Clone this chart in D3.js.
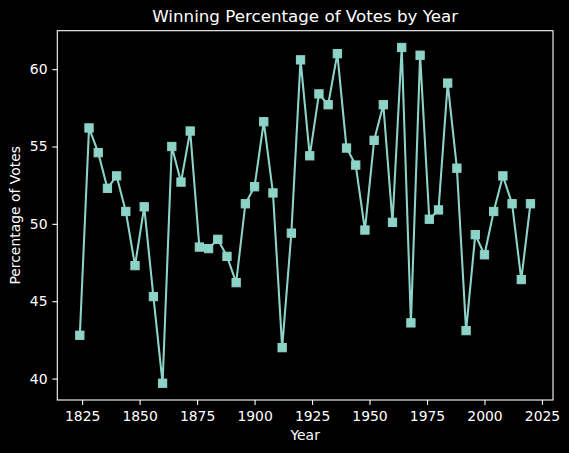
<!DOCTYPE html>
<html>
<head>
<meta charset="utf-8">
<script src="https://cdn.jsdelivr.net/npm/d3@7"></script>
<style>
  html, body { margin: 0; padding: 0; background: #000; }
  svg { display: block; }
  text { font-family: "DejaVu Sans", sans-serif; fill: #fff; }
</style>
</head>
<body>
<svg id="chart" width="569" height="453"></svg>
<script>
// election years and the winner's share of the popular vote
const years = [1824, 1828, 1832, 1836, 1840, 1844, 1848, 1852, 1856, 1860,
               1864, 1868, 1872, 1876, 1880, 1884, 1888, 1892, 1896, 1900,
               1904, 1908, 1912, 1916, 1920, 1924, 1928, 1932, 1936, 1940,
               1944, 1948, 1952, 1956, 1960, 1964, 1968, 1972, 1976, 1980,
               1984, 1988, 1992, 1996, 2000, 2004, 2008, 2012, 2016, 2020];
const percents = [42.8, 56.2, 54.6, 52.3, 53.1, 50.8, 47.3, 51.1, 45.3, 39.7,
                  55.0, 52.7, 56.0, 48.5, 48.4, 49.0, 47.9, 46.2, 51.3, 52.4,
                  56.6, 52.0, 42.0, 49.4, 60.6, 54.4, 58.4, 57.7, 61.0, 54.9,
                  53.8, 49.6, 55.4, 57.7, 50.1, 61.4, 43.6, 60.9, 50.3, 50.9,
                  59.1, 53.6, 43.1, 49.3, 48.0, 50.8, 53.1, 51.3, 46.4, 51.3];
const xTicks = [1825, 1850, 1875, 1900, 1925, 1950, 1975, 2000, 2025];
const yTicks = [40, 45, 50, 55, 60];

const axL = 57.3, axR = 553, axT = 30.7, axB = 400;
const color = "#8dd3c7";

// matplotlib style 5% margins
function padded(ext) {
    const m = (ext[1] - ext[0]) * 0.05;
    return [ext[0] - m, ext[1] + m];
}

const x = d3.scaleLinear().domain(padded(d3.extent(years))).range([axL, axR]);
const y = d3.scaleLinear().domain(padded(d3.extent(percents))).range([axB, axT]);

const svg = d3.select("#chart");
svg.append("rect").attr("width", 569).attr("height", 453).attr("fill", "#000");

const pts = years.map((yr, i) => [yr, percents[i]]);

svg.append("path")
   .datum(pts)
   .attr("fill", "none")
   .attr("stroke", color)
   .attr("stroke-width", 2.08)
   .attr("stroke-linejoin", "round")
   .attr("d", d3.line().x(d => x(d[0])).y(d => y(d[1])));

const s = 8.3;
svg.selectAll("rect.pt")
   .data(pts)
   .enter()
   .append("rect")
   .attr("class", "pt")
   .attr("x", d => x(d[0]) - s / 2)
   .attr("y", d => y(d[1]) - s / 2)
   .attr("width", s)
   .attr("height", s)
   .attr("fill", color)
   .attr("stroke", color)
   .attr("stroke-width", 1);

// axes
const xAxis = d3.axisBottom(x).tickValues(xTicks).tickFormat(d3.format("d"))
                .tickSize(4.9).tickPadding(6.2);
const yAxis = d3.axisLeft(y).tickValues(yTicks).tickSize(4.9).tickPadding(4.9);

const gx = svg.append("g").attr("transform", `translate(0, ${axB})`).call(xAxis);
const gy = svg.append("g").attr("transform", `translate(${axL}, 0)`).call(yAxis);

[gx, gy].forEach(g => {
    g.select(".domain").remove();
    g.selectAll(".tick line").attr("stroke", "#fff").attr("stroke-width", 1.1);
    g.selectAll(".tick text").attr("fill", "#fff")
     .style("font-family", "DejaVu Sans").style("font-size", "13.9px");
});

// frame
svg.append("rect")
   .attr("x", axL).attr("y", axT)
   .attr("width", axR - axL).attr("height", axB - axT)
   .attr("fill", "none").attr("stroke", "#fff").attr("stroke-width", 1.1);

// labels
svg.append("text")
   .attr("x", (axL + axR) / 2).attr("y", 22)
   .attr("text-anchor", "middle").style("font-size", "16.7px")
   .text("Winning Percentage of Votes by Year");

svg.append("text")
   .attr("x", (axL + axR) / 2).attr("y", 440)
   .attr("text-anchor", "middle").style("font-size", "13.9px")
   .text("Year");

svg.append("text")
   .attr("transform", `translate(20.3, ${(axT + axB) / 2}) rotate(-90)`)
   .attr("text-anchor", "middle").style("font-size", "13.9px")
   .text("Percentage of Votes");
</script>
</body>
</html>
